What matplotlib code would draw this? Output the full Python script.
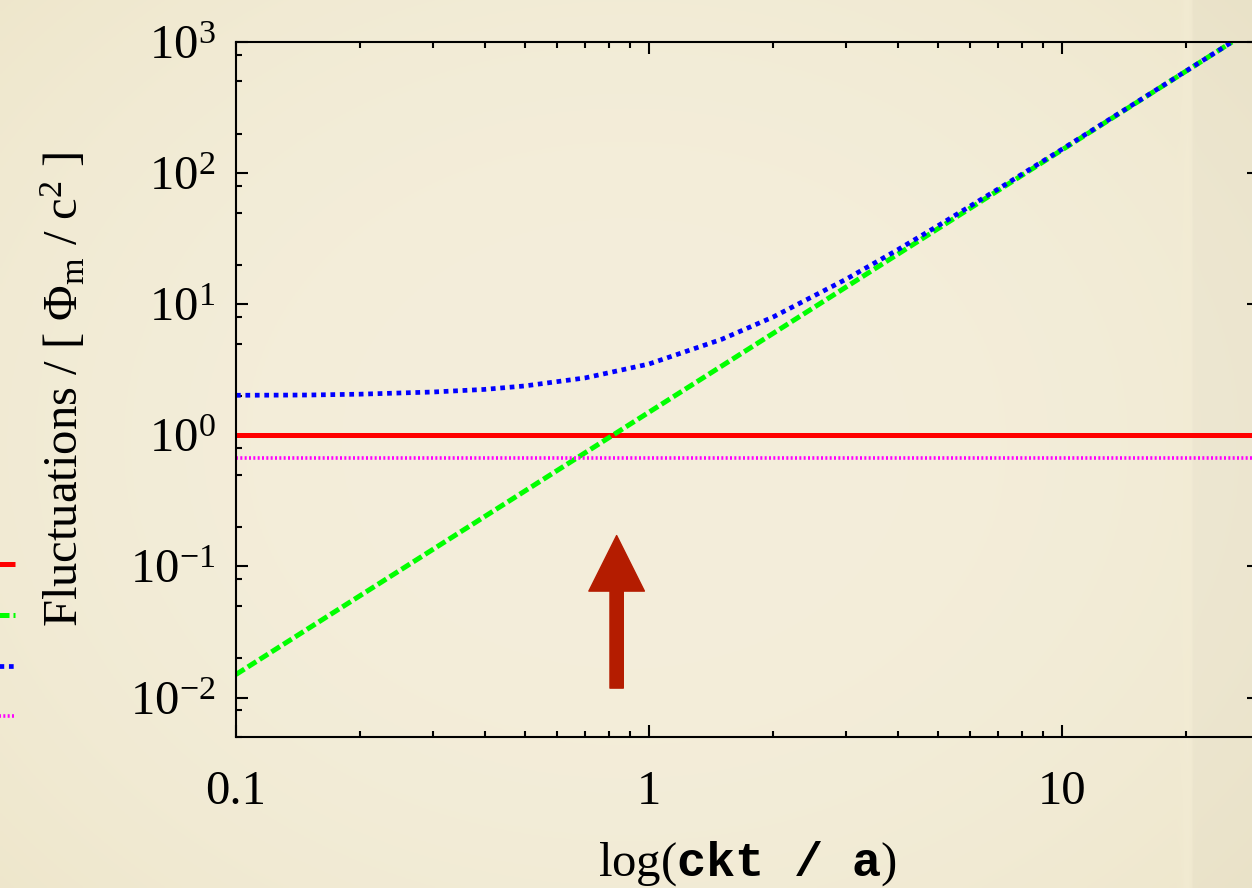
import numpy as np
import matplotlib
matplotlib.use("Agg")
import matplotlib.pyplot as plt
from matplotlib.ticker import LogLocator, FixedLocator, FixedFormatter, NullFormatter

plt.rcParams['font.family'] = ['Liberation Serif', 'DejaVu Serif']
plt.rcParams['mathtext.fontset'] = 'custom'
plt.rcParams['mathtext.rm'] = 'Liberation Serif'
plt.rcParams['mathtext.it'] = 'Liberation Serif:italic'
plt.rcParams['mathtext.tt'] = 'Liberation Mono:bold'
plt.rcParams['axes.unicode_minus'] = False

x_flat = [0.1, 30]
mean_level = [1.0, 1.0]
floor_level = [0.667, 0.667]

x_growth = [0.1, 25.8]
growth = [0.015, 1000]

x_total = [0.1, 0.15, 0.2, 0.3, 0.4, 0.5, 0.7, 1.0, 1.5, 2.0, 3.0, 4.0,
           5.0, 7.0, 10.0, 15.0, 20.0, 25.8]
total = [2.02, 2.03, 2.06, 2.14, 2.24, 2.38, 2.74, 3.5, 5.4, 8.0, 15.5, 26.0,
         39.5, 75.5, 152, 340, 602, 1000]

xticks = [0.1, 1, 10]
xticklabels = ['0.1', '1', '10']

# arrow marking the crossover
arrow_x = 0.835
arrow_from = 0.0118
arrow_to = 0.172

fig = plt.figure(figsize=(12.52, 8.88), dpi=100)

# slide background: warm cream, a little darker towards the edges
bg = fig.add_axes([0, 0, 1, 1], zorder=-10)
bg.axis('off')
yy, xx = np.mgrid[0:1:300j, 0:1:420j]
r = np.hypot((xx - 0.5) / 0.85, (yy - 0.5) / 0.95)
t = np.clip(r, 0, 1) ** 2.5
c0 = np.array([244, 238, 219]) / 255
c1 = np.array([234, 225, 192]) / 255
img = c0[None, None, :] * (1 - t[..., None]) + c1[None, None, :] * t[..., None]
# light vertical streak and slightly darker strip at the right edge
streak = np.exp(-((xx - 0.949) / 0.004) ** 2)[..., None]
img = img * (1 - 0.6 * streak) + np.array([243, 236, 212]) / 255 * 0.6 * streak
right = (xx > 0.953)[..., None]
img = np.where(right, img * 0.98, img)
bg.imshow(img, extent=[0, 1, 0, 1], aspect='auto', origin='lower')

ax = fig.add_axes([236 / 1252, 151 / 888, 1023 / 1252, 695 / 888])
ax.set_facecolor('none')

l1, = ax.plot(x_flat, mean_level, color='#ff0000', lw=3.6, solid_capstyle='butt')
l2, = ax.plot(x_growth, growth, color='#00ff00', lw=3.6, dashes=(2.0, 0.8),
              dash_capstyle='butt')
l3, = ax.plot(x_total, total, color='#0000ff', lw=3.4, dashes=(1.0, 1.0),
              dash_capstyle='butt')
l4, = ax.plot(x_flat, floor_level, color='#ff00ff', lw=2.6, dashes=(0.55, 0.65),
              dash_capstyle='butt')

ax.annotate('', xy=(arrow_x, arrow_to), xytext=(arrow_x, arrow_from),
            arrowprops=dict(arrowstyle='simple,head_width=2.0,head_length=2.0,tail_width=0.48',
                            mutation_scale=20, color='#b41c00', shrinkA=0, shrinkB=0))

ax.set_xscale('log')
ax.set_yscale('log')
ax.set_xlim(0.1, 30)
ax.set_ylim(0.005, 1000)

ax.xaxis.set_major_locator(FixedLocator(xticks))
ax.xaxis.set_major_formatter(FixedFormatter(xticklabels))
ax.xaxis.set_minor_locator(LogLocator(base=10, subs=np.arange(2, 10), numticks=20))
ax.xaxis.set_minor_formatter(NullFormatter())
ax.yaxis.set_major_locator(LogLocator(base=10, numticks=20))
ax.yaxis.set_minor_locator(LogLocator(base=10, subs=[2, 5, 8], numticks=20))
ax.yaxis.set_minor_formatter(NullFormatter())

ax.tick_params(which='both', direction='in', top=True, right=True, width=1.5,
               labelsize=35, colors='black')
ax.tick_params(which='major', length=8.6)
ax.tick_params(which='minor', length=4.3)
ax.tick_params(axis='x', pad=24)
ax.tick_params(axis='y', pad=15)
for s in ax.spines.values():
    s.set_linewidth(1.5)

ax.set_xlabel(r'log($\mathtt{ckt}\enspace\ \mathtt{/}\enspace\ \mathtt{a}$)', fontsize=35, labelpad=18)
ax.set_ylabel(r'Fluctuations / [ $\Phi_\mathrm{m}$ / c$^\mathrm{2}$ ]', fontsize=35, labelpad=30)

# key samples sit at the left edge of the slide
fig.legend([l1, l2, l3, l4], [''] * 4, loc='upper right',
           bbox_to_anchor=(50 / 1252, 1 - 515 / 888),
           frameon=False, markerfirst=False, fontsize=28, labelspacing=0.35,
           handlelength=2.0, borderpad=0.4)

fig.savefig('out.png', dpi=100)
